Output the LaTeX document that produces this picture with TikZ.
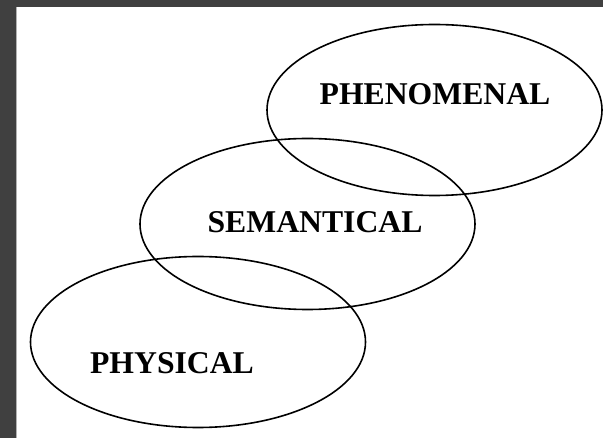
\documentclass[tikz,border=0pt]{standalone}
\usepackage{fontspec}
\setmainfont{Liberation Serif}
\usepackage{xcolor}
\usepackage{tikz}
\usetikzlibrary{shapes.geometric}

\definecolor{frame}{HTML}{404040}

\begin{document}
\begin{tikzpicture}[x=1pt, y=-1pt,
    layer/.style={ellipse, draw, line width=1.6pt, minimum width=335pt,
      minimum height=171pt, inner sep=0pt},
    word/.style={font=\bfseries\fontsize{31.7}{34}\selectfont, inner sep=0pt}]
  \useasboundingbox (0,0) rectangle (603,438);
  \fill[frame] (0,0) rectangle (603,438);
  \fill[white] (16,7.5) rectangle (603,438);
  \draw[gray!60, line width=0.8pt] (16.4,7.5) -- (16.4,438);
  % the three levels
  \node[layer] (phen) at (434.5,110) {};
  \node[layer] (sem) at (307.5,224) {};
  \node[layer] (phys) at (198,342) {};
  \node[word] (phenlbl) at (435,94) {PHENOMENAL};
  \node[word] (semlbl) at (315,222.5) {SEMANTICAL};
  \node[word] (physlbl) at (172,363.5) {PHYSICAL};
\end{tikzpicture}
\end{document}
